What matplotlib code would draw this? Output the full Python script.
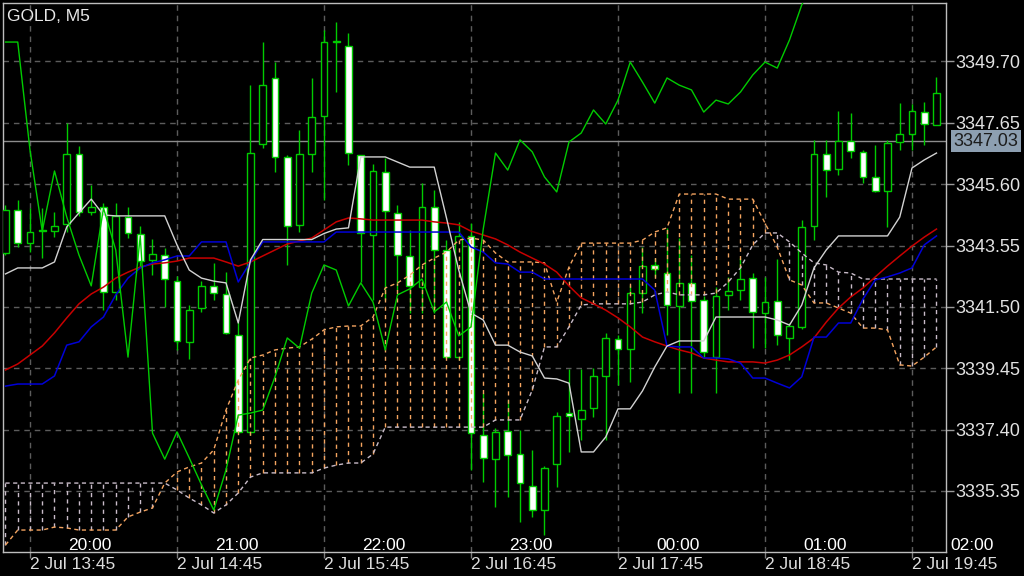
import matplotlib
matplotlib.use("Agg")
import matplotlib.pyplot as plt
import numpy as np

plt.rcParams["font.family"] = ["Liberation Sans", "DejaVu Sans"]

# M5 bars, numbered from the 2 Jul 13:45 bar (first visible bar is -2)
first_bar = -2

opens = [
    3343.30, 3344.74, 3343.63, 3344.07, 3344.03, 3344.27, 3346.61, 3344.67, 3344.84, 3342.00,
    3344.50, 3343.93, 3343.07, 3343.23, 3342.36, 3340.33, 3341.46, 3342.20, 3341.93, 3340.56,
    3337.32, 3346.94, 3349.15, 3346.51, 3344.24, 3346.61, 3347.88, 3350.35, 3350.22, 3346.58,
    3343.90, 3346.01, 3344.64, 3343.20, 3342.16, 3344.84, 3343.40, 3339.82, 3343.87, 3337.22,
    3336.41, 3337.35, 3336.58, 3335.51, 3334.71, 3336.25, 3337.95, 3337.75, 3338.12, 3339.19,
    3340.42, 3340.09, 3341.96, 3342.90, 3342.63, 3341.53, 3342.30, 3341.73, 3339.82, 3341.90,
    3342.06, 3342.46, 3341.29, 3341.70, 3340.46, 3340.83, 3344.20, 3346.61, 3346.11, 3347.04,
    3346.68, 3345.84, 3345.37, 3347.01, 3347.28, 3348.01, 3347.58,
]
highs = [
    3344.90, 3345.07, 3344.80, 3344.80, 3344.67, 3347.64, 3346.88, 3345.57, 3344.97, 3344.97,
    3344.84, 3344.20, 3343.77, 3343.47, 3342.53, 3341.56, 3342.36, 3342.97, 3342.66, 3340.99,
    3348.91, 3350.35, 3349.68, 3346.58, 3347.41, 3349.15, 3350.75, 3351.02, 3350.65, 3346.58,
    3346.27, 3346.47, 3344.90, 3344.07, 3345.64, 3345.41, 3343.73, 3344.34, 3344.30, 3338.62,
    3337.45, 3338.39, 3337.38, 3336.72, 3336.18, 3337.99, 3339.42, 3339.42, 3339.46, 3340.63,
    3340.56, 3342.23, 3343.50, 3343.13, 3344.14, 3343.80, 3343.23, 3341.86, 3342.16, 3342.50,
    3343.13, 3342.63, 3342.50, 3343.10, 3340.96, 3344.40, 3347.08, 3347.08, 3348.05, 3347.98,
    3346.74, 3346.91, 3347.08, 3348.31, 3348.28, 3348.35, 3349.18,
]
lows = [
    3343.23, 3343.50, 3343.33, 3343.13, 3343.83, 3344.00, 3344.54, 3344.57, 3341.39, 3341.73,
    3343.80, 3342.83, 3342.56, 3341.50, 3340.06, 3339.76, 3341.33, 3341.73, 3340.59, 3337.28,
    3337.22, 3346.81, 3346.01, 3342.90, 3344.00, 3346.01, 3345.07, 3348.68, 3346.24, 3342.33,
    3341.73, 3341.73, 3342.06, 3341.29, 3341.29, 3341.29, 3339.80, 3339.72, 3336.05, 3335.65,
    3334.81, 3335.14, 3334.31, 3334.48, 3333.88, 3335.48, 3336.65, 3337.05, 3337.82, 3337.05,
    3338.89, 3338.99, 3341.29, 3342.50, 3340.56, 3338.62, 3338.62, 3339.79, 3338.62, 3341.39,
    3341.73, 3340.12, 3340.12, 3340.22, 3339.72, 3340.76, 3343.73, 3345.17, 3345.91, 3346.47,
    3345.64, 3345.34, 3344.17, 3346.74, 3346.74, 3346.91, 3347.58,
]
closes = [
    3344.74, 3343.63, 3344.00, 3344.03, 3344.20, 3346.61, 3344.67, 3344.84, 3342.00, 3344.54,
    3343.97, 3343.03, 3343.27, 3342.43, 3340.36, 3341.39, 3342.20, 3341.96, 3340.63, 3337.32,
    3346.64, 3348.91, 3346.51, 3344.20, 3346.61, 3347.84, 3350.35, 3350.35, 3346.64, 3343.97,
    3346.04, 3344.70, 3343.23, 3342.20, 3344.84, 3343.40, 3339.82, 3343.87, 3337.28, 3336.45,
    3337.32, 3336.55, 3335.61, 3334.71, 3336.11, 3337.85, 3337.85, 3338.05, 3339.19, 3340.46,
    3340.09, 3341.96, 3342.86, 3342.77, 3341.56, 3342.30, 3341.70, 3339.99, 3341.86, 3342.03,
    3342.43, 3341.33, 3341.66, 3340.56, 3340.86, 3344.17, 3346.61, 3346.07, 3347.04, 3346.71,
    3345.84, 3345.37, 3346.98, 3347.28, 3348.05, 3347.61, 3348.65,
]

# Ichimoku + moving average, one value per bar
tenkan = [
    3342.60, 3342.80, 3342.80, 3342.80, 3343.00, 3344.17, 3344.64, 3345.10, 3344.57, 3344.54,
    3344.54, 3344.54, 3344.54, 3344.54, 3343.57, 3342.73, 3342.46, 3342.36, 3342.30, 3340.96,
    3343.07, 3343.75, 3343.75, 3343.75, 3343.75, 3343.75, 3343.95, 3344.10, 3344.14, 3346.51,
    3346.51, 3346.51, 3346.34, 3346.17, 3346.17, 3346.17, 3344.47, 3342.73, 3341.29, 3341.06,
    3340.22, 3340.22, 3339.99, 3339.86, 3339.12, 3339.09, 3338.95, 3336.65, 3336.65, 3337.15,
    3338.09, 3338.09, 3338.69, 3339.49, 3340.19, 3340.36, 3340.36, 3340.36, 3341.16, 3341.16,
    3341.16, 3341.16, 3341.16, 3341.06, 3340.89, 3341.56, 3342.80, 3343.40, 3343.87, 3343.87,
    3343.87, 3343.87, 3343.87, 3344.50, 3346.14, 3346.41, 3346.64,
]
kijun = [
    3338.85, 3338.92, 3338.92, 3338.92, 3339.19, 3340.22, 3340.33, 3340.83, 3341.16, 3341.90,
    3342.46, 3342.80, 3342.97, 3343.07, 3343.20, 3343.20, 3343.67, 3343.67, 3343.67, 3342.33,
    3343.00, 3343.67, 3343.67, 3343.67, 3343.67, 3343.67, 3343.67, 3344.00, 3344.00, 3344.00,
    3344.00, 3344.00, 3344.00, 3344.00, 3344.00, 3344.00, 3344.00, 3344.00, 3343.50, 3343.33,
    3342.97, 3342.93, 3342.66, 3342.66, 3342.43, 3342.43, 3342.43, 3342.43, 3342.43, 3342.43,
    3342.43, 3342.43, 3342.43, 3342.06, 3340.19, 3340.16, 3340.16, 3339.79, 3339.79, 3339.76,
    3339.62, 3339.12, 3339.12, 3338.95, 3338.79, 3339.16, 3340.49, 3340.49, 3340.96, 3340.96,
    3341.76, 3342.40, 3342.50, 3342.63, 3342.80, 3343.57, 3343.87,
]
ma_red = [
    3339.39, 3339.59, 3339.89, 3340.19, 3340.63, 3341.13, 3341.60, 3341.93, 3342.16, 3342.46,
    3342.66, 3342.83, 3342.93, 3342.97, 3343.03, 3343.13, 3343.13, 3343.13, 3343.00, 3342.86,
    3343.00, 3343.20, 3343.40, 3343.60, 3343.70, 3343.80, 3344.07, 3344.34, 3344.47, 3344.44,
    3344.40, 3344.40, 3344.40, 3344.40, 3344.40, 3344.34, 3344.30, 3344.24, 3344.03, 3343.90,
    3343.77, 3343.57, 3343.33, 3343.13, 3342.93, 3342.66, 3342.20, 3341.80, 3341.60, 3341.39,
    3341.13, 3340.83, 3340.49, 3340.33, 3340.19, 3340.06, 3339.96, 3339.79, 3339.72, 3339.66,
    3339.66, 3339.66, 3339.62, 3339.72, 3339.89, 3340.16, 3340.46, 3340.99, 3341.46, 3341.83,
    3342.13, 3342.50, 3342.86, 3343.20, 3343.53, 3343.83, 3344.10,
]
span_a = [
    3333.54, 3334.04, 3334.04, 3334.04, 3334.14, 3334.11, 3334.04, 3334.04, 3334.04, 3334.04,
    3334.48, 3334.64, 3334.78, 3335.61, 3335.98, 3336.15, 3336.28, 3336.72, 3338.05, 3339.05,
    3339.79, 3339.89, 3340.06, 3340.12, 3340.16, 3340.42, 3340.73, 3340.83, 3340.86, 3340.86,
    3341.16, 3342.13, 3342.30, 3342.56, 3342.90, 3343.13, 3343.33, 3343.73, 3343.80, 3343.73,
    3343.30, 3343.00, 3343.00, 3343.00, 3342.97, 3341.66, 3342.83, 3343.63, 3343.63, 3343.63,
    3343.63, 3343.63, 3343.73, 3344.00, 3344.14, 3345.27, 3345.27, 3345.27, 3345.27, 3345.10,
    3345.10, 3345.10, 3344.30, 3343.50, 3342.40, 3342.23, 3341.63, 3341.63, 3341.46, 3341.29,
    3340.79, 3340.79, 3340.73, 3339.56, 3339.52, 3339.82, 3340.16,
]
span_b = [
    3335.61, 3335.61, 3335.61, 3335.61, 3335.61, 3335.61, 3335.61, 3335.61, 3335.61, 3335.61,
    3335.61, 3335.61, 3335.61, 3335.61, 3335.38, 3335.11, 3334.88, 3334.61, 3334.88, 3335.28,
    3335.81, 3335.95, 3335.95, 3335.95, 3335.95, 3335.95, 3336.11, 3336.21, 3336.28, 3336.28,
    3336.58, 3337.48, 3337.48, 3337.48, 3337.48, 3337.48, 3337.48, 3337.48, 3337.48, 3337.48,
    3337.72, 3337.72, 3337.72, 3338.72, 3340.16, 3340.16, 3340.83, 3341.56, 3341.60, 3341.60,
    3341.60, 3341.60, 3341.66, 3341.90, 3342.00, 3341.90, 3341.90, 3341.90, 3341.96, 3342.33,
    3342.80, 3343.57, 3343.97, 3343.97, 3343.67, 3343.30, 3342.97, 3342.90, 3342.66, 3342.63,
    3342.43, 3342.43, 3342.43, 3342.43, 3342.43, 3342.43, 3342.43,
]
# lagging span, runs off the top of the window after bar 63
chikou = [
    3350.35, 3350.35, 3346.74, 3344.03, 3346.04, 3344.50, 3343.23, 3342.20, 3344.80, 3343.40,
    3339.82, 3343.87, 3337.28, 3336.41, 3337.32, 3336.45, 3335.55, 3334.71, 3336.05, 3337.88,
    3337.95, 3338.05, 3339.16, 3340.46, 3340.12, 3341.96, 3342.90, 3342.73, 3341.53, 3342.30,
    3341.66, 3340.06, 3341.90, 3342.10, 3342.43, 3341.33, 3341.66, 3340.53, 3340.83, 3344.10,
    3346.64, 3346.07, 3347.08, 3346.68, 3345.84, 3345.34, 3347.01, 3347.31, 3348.08, 3347.61,
    3348.41, 3349.68, 3349.01, 3348.31, 3349.15, 3348.91, 3348.75, 3348.01, 3348.41, 3348.28,
    3348.68, 3349.25, 3349.68, 3349.48, 3350.42, 3351.59, 3352.42,
]

price_ticks = [3349.70, 3347.65, 3345.60, 3343.55, 3341.50, 3339.45, 3337.40, 3335.35]
date_ticks = [0, 12, 24, 36, 48, 60, 72]
date_labels = ["2 Jul 13:45", "2 Jul 14:45", "2 Jul 15:45", "2 Jul 16:45",
               "2 Jul 17:45", "2 Jul 18:45", "2 Jul 19:45"]
local_ticks = [3, 15, 27, 39, 51, 63, 75]
local_labels = ["20:00", "21:00", "22:00", "23:00", "00:00", "01:00", "02:00"]
last_price = 3347.03

GREEN = "#00cc00"
SANDY = "#f4a460"
THISTLE = "#c9bcc9"

fig = plt.figure(figsize=(10.24, 5.76), dpi=100, facecolor="black")
ax = fig.add_axes([3 / 1024, 24 / 576, 942.5 / 1024, 549 / 576])
ax.set_facecolor("black")

x = np.arange(first_bar, first_bar + len(opens))
o = np.array(opens)
c = np.array(closes)

ax.set_xlim(-2.204, 74.735)
ax.set_ylim(3333.306, 3351.655)

# grid + axes
ax.set_xticks(date_ticks)
ax.set_xticklabels([])
ax.set_yticks(price_ticks)
ax.set_yticklabels([f"{p:.2f}" for p in price_ticks])
ax.yaxis.tick_right()
ax.grid(True, color="#5c5c5c", linestyle=(0, (4, 3.5)), linewidth=1.0)
ax.set_axisbelow(True)
for s in ax.spines.values():
    s.set_color("#bdbdbd")
    s.set_linewidth(1.0)
ax.tick_params(axis="y", colors="#9a9a9a", length=6, width=1, pad=1,
               labelsize=13, labelcolor="#e2e2e2")
ax.tick_params(axis="x", colors="#7a7a7a", length=4, width=1)

ax.axhline(last_price, color="#8c8c8c", lw=1.0, zorder=1.5)

# candles
ax.vlines(x, lows, highs, color=GREEN, lw=1.0, zorder=2)
bottoms = np.minimum(o, c)
heights = np.maximum(np.abs(c - o), 0.03)
fills = ["white" if ci < oi else "black" for oi, ci in zip(o, c)]
ax.bar(x, heights, width=0.56, bottom=bottoms, color=fills,
       edgecolor=GREEN, linewidth=1.0, zorder=3)

# cloud
a = np.array(span_a)
b = np.array(span_b)
up = a >= b
ax.vlines(x[up], b[up], a[up], colors=SANDY, linestyles=(0, (3, 3)), lw=1.0, zorder=4)
ax.vlines(x[~up], a[~up], b[~up], colors=THISTLE, linestyles=(0, (3, 3)), lw=1.0, zorder=4)
ax.plot(x, a, color=SANDY, ls=(0, (3, 2.5)), lw=1.0, zorder=4)
ax.plot(x, b, color=THISTLE, ls=(0, (3, 2.5)), lw=1.0, zorder=4)

# lines
ax.plot(x, ma_red, color="#c80000", lw=1.1, zorder=5)
ax.plot(x, kijun, color="#0000d8", lw=1.1, zorder=5)
ax.plot(x, tenkan, color="#d2d2d2", lw=1.0, zorder=5)
ax.plot(x[:len(chikou)], chikou, color=GREEN, lw=1.0, zorder=5)

# labels
fig.text(7 / 1024, 1 - 9 / 576, "GOLD, M5", color="#e8e8e8", fontsize=12.5,
         ha="left", va="top")
xt = ax.get_xaxis_transform()
for t, lab in zip(local_ticks, local_labels):
    ax.text(t + 0.15, 0.004, lab, transform=xt, color="white", fontsize=12.5,
            ha="left", va="baseline", clip_on=False, zorder=6)
for t, lab in zip(date_ticks, date_labels):
    ax.text(t, -0.031, lab, transform=xt, color="#dcdcdc", fontsize=12.5,
            ha="left", va="baseline", clip_on=False)
ax.text(1.0085, last_price, f"{last_price:.2f}", transform=ax.get_yaxis_transform(),
        color="#1c1c1c", fontsize=13, ha="left", va="center", clip_on=False,
        bbox=dict(boxstyle="square,pad=0.14", fc="#8d9fb1", ec="none"), zorder=7)

fig.savefig("out.png", dpi=100, facecolor="black")
